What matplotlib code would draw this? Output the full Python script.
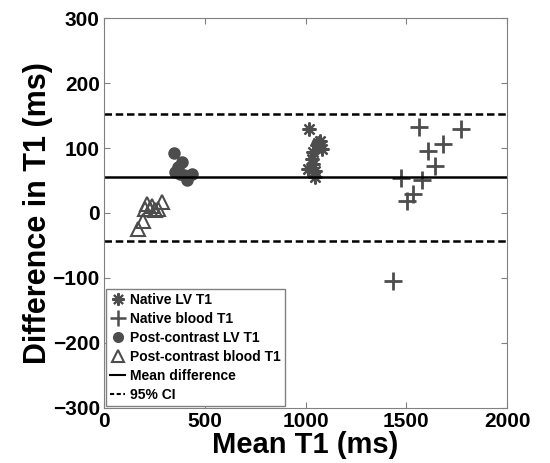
import matplotlib
matplotlib.use('Agg')
import matplotlib.pyplot as plt
from matplotlib.lines import Line2D

plt.rcParams['font.family'] = ['Liberation Sans', 'DejaVu Sans']
plt.rcParams['font.weight'] = 'bold'

# Bland-Altman data (ms)
native_lv_mean = [1019, 1072, 1055, 1080, 1039, 1031, 1039, 1012, 1047, 1047, 1063]
native_lv_diff = [129, 111, 104, 98, 94, 83, 75, 68, 65, 55, 108]

native_blood_mean = [1563, 1772, 1610, 1684, 1643, 1580, 1535, 1505, 1474, 1433]
native_blood_diff = [132, 130, 96, 106, 73, 51, 29, 19, 54, -104]

post_lv_mean = [347, 385, 369, 352, 377, 435, 413, 395, 360]
post_lv_diff = [93, 78, 70, 63, 60, 60, 50, 58, 66]

post_blood_mean = [170, 195, 212, 228, 253, 286, 203, 236, 269]
post_blood_diff = [-25, -12, 14, 6, 4, 17, 6, 11, 6]

mean_diff = 55
ci_upper = 153
ci_lower = -43

x_ticks = [0, 500, 1000, 1500, 2000]
y_ticks = [-300, -200, -100, 0, 100, 200, 300]

grey = '#4d4d4d'

fig = plt.figure(figsize=(5.5, 4.63), dpi=100)
ax = fig.add_axes([0.189, 0.119, 0.733, 0.842])

ax.plot(native_lv_mean, native_lv_diff, linestyle='none', marker=(8, 2, 0),
        markersize=10, markeredgewidth=1.6, color=grey)
ax.plot(native_blood_mean, native_blood_diff, linestyle='none', marker='+',
        markersize=13, markeredgewidth=2, color=grey)
ax.plot(post_lv_mean, post_lv_diff, linestyle='none', marker='o',
        markersize=8, color=grey, markeredgecolor=grey)
ax.plot(post_blood_mean, post_blood_diff, linestyle='none', marker='^',
        markersize=10, markerfacecolor='none', markeredgewidth=1.5,
        markeredgecolor=grey)

ax.axhline(mean_diff, color='black', linewidth=1.8)
ax.axhline(ci_upper, color='black', linewidth=1.8, linestyle=(0, (3, 1.5)))
ax.axhline(ci_lower, color='black', linewidth=1.8, linestyle=(0, (3, 1.5)))

ax.set_xlim(0, 2000)
ax.set_ylim(-300, 300)
ax.set_xticks(x_ticks)
ax.set_yticks(y_ticks)
ax.tick_params(direction='in', top=True, right=True, color='#808080',
               labelsize=15, length=4)
ax.tick_params(axis='x', pad=3)
ax.tick_params(axis='y', pad=3)
for s in ax.spines.values():
    s.set_color('#808080')
for lab in ax.get_xticklabels() + ax.get_yticklabels():
    lab.set_fontweight('bold')

ax.set_xlabel('Mean T1 (ms)', fontsize=21, fontweight='bold', labelpad=0)
ax.set_ylabel('Difference in T1 (ms)', fontsize=22, fontweight='bold', labelpad=0)

handles = [
    Line2D([], [], linestyle='none', marker=(8, 2, 0), markersize=9,
           markeredgewidth=1.5, color=grey),
    Line2D([], [], linestyle='none', marker='+', markersize=12,
           markeredgewidth=1.8, color=grey),
    Line2D([], [], linestyle='none', marker='o', markersize=7, color=grey),
    Line2D([], [], linestyle='none', marker='^', markersize=9,
           markerfacecolor='none', markeredgewidth=1.5, markeredgecolor=grey),
    Line2D([], [], color='black', linewidth=1.5),
    Line2D([], [], color='black', linewidth=1.5, linestyle=(0, (2, 1.2))),
]
labels = ['Native LV T1', 'Native blood T1', 'Post-contrast LV T1',
          'Post-contrast blood T1', 'Mean difference', '95% CI']
leg = ax.legend(handles, labels, loc='lower left', bbox_to_anchor=(0.0, 0.0),
                prop={'weight': 'bold', 'size': 10},
                handlelength=1.1, handletextpad=0.3, labelspacing=0.35,
                borderpad=0.3, borderaxespad=0.15, fancybox=False,
                framealpha=1, edgecolor='#808080')
leg.get_frame().set_linewidth(1.0)

fig.savefig('out.png', dpi=100)
